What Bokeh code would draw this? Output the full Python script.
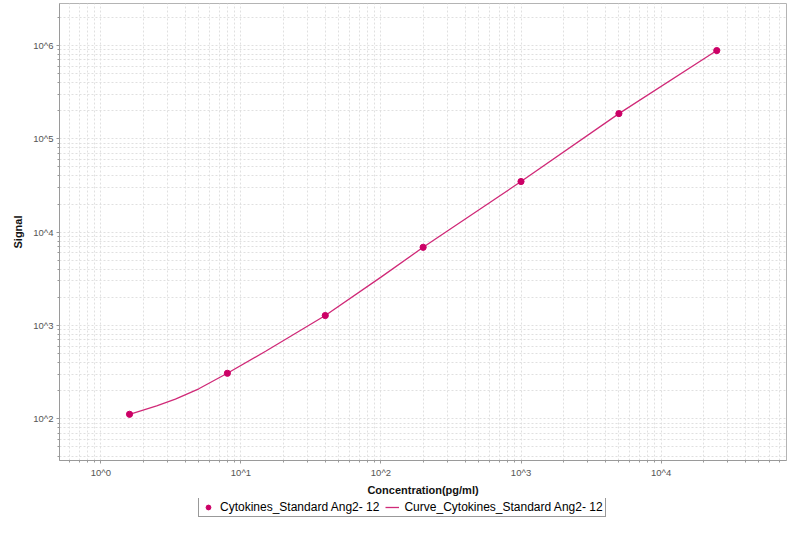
from bokeh.plotting import figure
from bokeh.layouts import column
from bokeh.models import Range1d, FixedTicker, Legend, LegendItem, ColumnDataSource
from bokeh.embed import file_html
from bokeh.resources import INLINE

# ---- data ----
conc = [1.6, 8, 40, 200, 1000, 5000, 25000]
signal = [112, 308, 1280, 6890, 34900, 186400, 883000]

curve_conc = [1.6, 2.5, 3.4, 5, 8, 15, 40, 100, 200, 1000, 5000, 25000]
curve_signal = [112, 138, 163, 210, 308, 530, 1280, 3300, 6890, 34900, 186400, 883000]

x_ticks = [1, 10, 100, 1000, 10000]
x_tick_labels = ["10^0", "10^1", "10^2", "10^3", "10^4"]
y_ticks = [100, 1000, 10000, 100000, 1000000]
y_tick_labels = ["10^2", "10^3", "10^4", "10^5", "10^6"]

point_label = "Cytokines_Standard Ang2- 12"
curve_label = "Curve_Cytokines_Standard Ang2- 12"
x_title = "Concentration(pg/ml)"
y_title = "Signal"

FONT = "Liberation Sans"
POINT_COLOR = "#CC0066"
LINE_COLOR = "#D02A78"
GRID_COLOR = "#e0e0e0"
AXIS_COLOR = "#9a9a9a"


def minors(lo_exp, hi_exp):
    out = []
    for e in range(lo_exp, hi_exp + 1):
        for m in range(2, 10):
            out.append(m * 10.0 ** e)
    return out


fig = figure(
    width=787, height=498,
    x_axis_type="log", y_axis_type="log",
    x_range=Range1d(10 ** -0.296, 10 ** 4.896),
    y_range=Range1d(10 ** 1.554, 10 ** 6.450),
    output_backend="svg", toolbar_location=None,
    min_border_left=59, min_border_right=1, min_border_top=3, min_border_bottom=33,
    background_fill_color="white", border_fill_color="white",
)

fig.outline_line_color = "#b4b4b4"
fig.outline_line_width = 1

fig.xaxis.ticker = FixedTicker(ticks=x_ticks, minor_ticks=minors(-1, 4))
fig.yaxis.ticker = FixedTicker(ticks=y_ticks, minor_ticks=minors(1, 6))
fig.xaxis.major_label_overrides = dict(zip(x_ticks, x_tick_labels))
fig.yaxis.major_label_overrides = dict(zip(y_ticks, y_tick_labels))

for ax in (fig.xaxis[0], fig.yaxis[0]):
    ax.axis_line_color = AXIS_COLOR
    ax.major_tick_line_color = AXIS_COLOR
    ax.minor_tick_line_color = AXIS_COLOR
    ax.major_tick_in = 0
    ax.major_tick_out = 3
    ax.minor_tick_in = 0
    ax.minor_tick_out = 2
    ax.major_label_standoff = 3
    ax.major_label_text_font = FONT
    ax.major_label_text_font_size = "9.5px"
    ax.major_label_text_color = "#555555"
    ax.axis_label_text_font = FONT
    ax.axis_label_text_font_size = "11px"
    ax.axis_label_text_font_style = "bold"
    ax.axis_label_text_color = "#111111"

fig.xaxis.axis_label = x_title
fig.yaxis.axis_label = y_title
fig.xaxis.axis_label_standoff = 3
fig.yaxis.axis_label_standoff = 6

for g in (fig.xgrid[0], fig.ygrid[0]):
    g.grid_line_color = GRID_COLOR
    g.grid_line_dash = "2 2"
    g.grid_line_width = 1
    g.minor_grid_line_color = GRID_COLOR
    g.minor_grid_line_dash = "2 2"
    g.minor_grid_line_width = 1

curve_src = ColumnDataSource(dict(x=curve_conc, y=curve_signal))
pts_src = ColumnDataSource(dict(x=conc, y=signal))

ln = fig.line("x", "y", source=curve_src, line_color=LINE_COLOR, line_width=1.3)
pts = fig.scatter("x", "y", source=pts_src, size=6.2, fill_color=POINT_COLOR,
                  line_color=POINT_COLOR)

# ---- legend strip below the chart (frames are aligned by the column) ----
leg_fig = figure(
    width=787, height=20,
    x_range=Range1d(0, 1), y_range=Range1d(0, 1),
    output_backend="svg", toolbar_location=None,
    x_axis_location=None, y_axis_location=None,
    min_border_left=0, min_border_right=0, min_border_top=0, min_border_bottom=0,
    background_fill_color="white", border_fill_color="white",
)
leg_fig.outline_line_color = None
leg_fig.xgrid.visible = False
leg_fig.ygrid.visible = False

# legend-only copies of the two glyphs (hidden; they only supply the legend swatches)
leg_ln = leg_fig.line("x", "y", source=curve_src, line_color=LINE_COLOR,
                      line_width=1.3, visible=False)
leg_pts = leg_fig.scatter("x", "y", source=pts_src, size=6.2, fill_color=POINT_COLOR,
                          line_color=POINT_COLOR, visible=False)

legend = Legend(
    items=[LegendItem(label=point_label, renderers=[leg_pts]),
           LegendItem(label=curve_label, renderers=[leg_ln])],
    orientation="horizontal",
    location=(139, 1),
    border_line_color="#333333", border_line_width=1,
    background_fill_color="white", background_fill_alpha=1,
    padding=2, spacing=6, margin=0,
    glyph_width=14, glyph_height=12, label_height=12, label_standoff=5,
    label_text_font=FONT, label_text_font_size="12px", label_text_color="#000000",
)
leg_fig.add_layout(legend, "center")

p = column(fig, leg_fig, spacing=0)

open("out.html", "w").write(file_html(p, INLINE))
